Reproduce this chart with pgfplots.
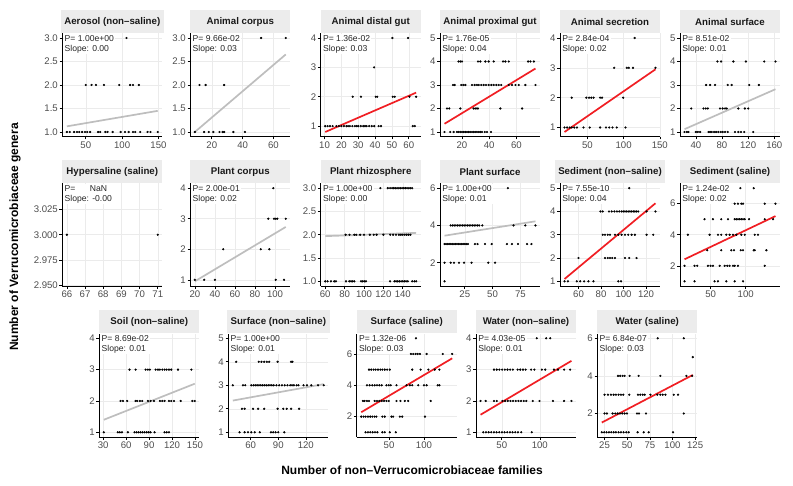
\documentclass[border=0pt]{standalone}
\usepackage{fontspec}
\setmainfont{Liberation Sans}
\usepackage{pgfplots}
\pgfplotsset{compat=1.18}
\definecolor{gridc}{RGB}{235,235,235}
\definecolor{stripc}{RGB}{236,236,236}
\definecolor{tickc}{RGB}{77,77,77}
\definecolor{sigred}{RGB}{240,30,35}
\definecolor{nsgray}{RGB}{190,190,190}
\tikzset{annst/.style={anchor=north west, align=left, fill=white, inner sep=1.2pt, xshift=1pt, yshift=-0.4pt,
  font=\fontsize{8.6}{10}\selectfont, text=black!85}}
\pgfplotsset{
 facet/.style={scale only axis, width=100pt, height=103.4pt, anchor=north west,
  axis lines*=left, axis line style={black, line width=0.75pt},
  tick align=outside, major tick length=2.8pt, tick style={black, line width=0.6pt},
  grid=major, major grid style={gridc, line width=0.5pt},
  enlarge x limits=0.05, enlarge y limits=0.05, scaled ticks=false,
  tick label style={font=\fontsize{9.6}{10}\selectfont, text=tickc},
  yticklabel style={inner xsep=1.5pt}, xticklabel style={inner ysep=2pt},
  every axis title shift=0pt,
  title style={at={(0.5,1)}, anchor=south, fill=stripc, minimum width=100pt, minimum height=23pt,
   inner xsep=3.5pt, inner ysep=0pt, font=\bfseries\fontsize{9.7}{11}\selectfont, text=black!90}},
 ann/.style 2 args={after end axis/.code={\node[annst] at (rel axis cs:0,1) {P= #1\\Slope: #2};}},
 pts/.style={only marks, mark=*, mark size=0.9pt, black},
 sig/.style={sigred, line width=1.7pt, no marks},
 ns/.style={nsgray, line width=1.7pt, no marks},
}
\begin{document}
\begin{tikzpicture}
\path[use as bounding box] (0,0) rectangle (793pt,486pt);
% ---------------- Row 1 ----------------
\begin{axis}[facet, at={(62.3pt,452.7pt)}, title={Aerosol (non–saline)}, ann={1.00e+00}{0.00},
 xtick={50,100,150}, xticklabels={50,100,150}, ytick={1,1.5,2,2.5,3}, yticklabels={1.0,1.5,2.0,2.5,3.0}]
\addplot[pts] coordinates {(106,3)(50,2)(58,2)(64,2)(75,2)(96,2)(111,2)(115,2)(123,2)
(24,1)(28,1)(34,1)(38,1)(41,1)(45,1)(49,1)(52,1)(56,1)(67,1)(70,1)(77,1)(80,1)(87,1)(98,1)(104,1)(109,1)(115,1)(118,1)(125,1)(135,1)(139,1)(149,1)};
\addplot[ns] coordinates {(24,1.12)(149,1.45)};
\end{axis}
\begin{axis}[facet, at={(190.3pt,452.7pt)}, title={Animal corpus}, ann={9.66e-02}{0.03},
 xtick={20,40,60}, xticklabels={20,40,60}, ytick={1,1.5,2,2.5,3}, yticklabels={1.0,1.5,2.0,2.5,3.0}]
\addplot[pts] coordinates {(52,3)(68,3)(12,2)(16,2)(28,2)
(9,1)(15,1)(18,1)(21,1)(25,1)(27,1)(28,1)(34,1)(41.5,1)};
\addplot[ns] coordinates {(9,1.0)(68,2.65)};
\end{axis}
\begin{axis}[facet, at={(320.7pt,452.7pt)}, title={Animal distal gut}, ann={1.36e-02}{0.03},
 xtick={10,20,30,40,50,60}, xticklabels={10,20,30,40,50,60}, ytick={1,2,3,4}, yticklabels={1,2,3,4}]
\addplot[pts] coordinates {(50.3,4)(59.6,4)(39.4,3)
(26.7,2)(31.6,2)(40.4,2)(41.3,2)(50.5,2)(51.7,2)(60.4,2)(64.4,2)
(10.4,1)(11.8,1)(13.2,1)(14.8,1)(17,1)(18.5,1)(20,1)(21.5,1)(23,1)(24,1)(25,1)(26.5,1)(28,1)(29,1)(30,1)(31.5,1)(33,1)(34,1)(35,1)(36.5,1)(38,1)(39.5,1)(42.1,1)(43.5,1)(62.4,1)(63.6,1)};
\addplot[sig] coordinates {(10.4,0.8)(64.4,2.14)};
\end{axis}
\begin{axis}[facet, at={(440pt,452.7pt)}, title={Animal proximal gut}, ann={1.76e-05}{0.04},
 xtick={20,40,60}, xticklabels={20,40,60}, ytick={1,2,3,4,5}, yticklabels={1,2,3,4,5}]
\addplot[pts] coordinates {(12,5)
(17.5,4)(18.8,4)(20,4)(31.8,4)(33.5,4)(37.2,4)(39.6,4)(43.3,4)(50.2,4)(51.9,4)(54.4,4)(68.6,4)(70.3,4)(72.8,4)
(13.4,3)(14.6,3)(19.5,3)(21,3)(22.5,3)(27.4,3)(29.3,3)(31,3)(32.3,3)(34.2,3)(35.9,3)(37.7,3)(39.6,3)(41.6,3)(43.3,3)(45.3,3)(47,3)(48.9,3)(54.4,3)(56.8,3)(59.3,3)(61.7,3)(66.6,3)(74,3)
(9,2)(10.7,2)(18.8,2)(28.6,2)(29.8,2)(31,2)(31.8,2)(48.2,2)(64.2,2)
(7.2,1)(11.4,1)(13.9,1)(16.3,1)(17.5,1)(18.8,1)(20,1)(21.2,1)(22.5,1)(23.7,1)(24.9,1)(26.1,1)(27.4,1)(28.6,1)(29.8,1)(31,1)(32.3,1)(33.5,1)(34.7,1)(36.7,1)(38.4,1)(41.3,1)};
\addplot[sig] coordinates {(7.2,1.35)(74,3.7)};
\end{axis}
\begin{axis}[facet, at={(560pt,452.7pt)}, title={Animal secretion}, ann={2.84e-04}{0.02},
 xtick={50,100,150}, xticklabels={50,100,150}, ytick={1,2,3,4}, yticklabels={1,2,3,4}]
\addplot[pts] coordinates {(115.3,4)(87,3)(104.5,3)(107.2,3)(113,3)(144,3)
(28.4,2)(48.6,2)(52.3,2)(55.4,2)(58.6,2)(67.6,2)(70.3,2)(99.5,2)
(18.5,1)(22,1)(25.7,1)(28.4,1)(32,1)(35.6,1)(44.6,1)(53.2,1)(67.6,1)(75.7,1)(80.2,1)(84.7,1)(90.5,1)(102.7,1)};
\addplot[sig] coordinates {(18.5,0.85)(144,2.95)};
\end{axis}
\begin{axis}[facet, at={(680pt,452.7pt)}, title={Animal surface}, ann={8.51e-02}{0.01},
 xtick={40,80,120,160}, xticklabels={40,80,120,160}, ytick={1,2,3,4,5}, yticklabels={1,2,3,4,5}]
\addplot[pts] coordinates {(30,5)
(73,4)(78.6,4)(97.4,4)(116.6,4)(144.6,4)(161.8,4)
(55.7,3)(61.8,3)(69.4,3)(88.7,3)(94.8,3)(121.7,3)(136.4,3)
(32.9,2)(51.7,2)(55.2,2)(58.3,2)(77,2)(81,2)(84.7,2)(87.2,2)(105,2)(115,2)(120.2,2)
(22.7,1)(26.3,1)(28.8,1)(40,1)(43,1)(46.6,1)(59.3,1)(61.8,1)(64.4,1)(67.9,1)(71,1)(74.5,1)(78,1)(81,1)(84.7,1)(88.7,1)(99.9,1)(105,1)(109,1)(114,1)(127.8,1)};
\addplot[ns] coordinates {(22.7,1.12)(161.8,2.82)};
\end{axis}
% ---------------- Row 2 ----------------
\begin{axis}[facet, height=102.5pt, at={(62.3pt,302.5pt)}, title={Hypersaline (saline)},
 ymin=2.9495, ymax=3.0505, enlarge y limits=false,
 xtick={66,67,68,69,70,71}, xticklabels={66,67,68,69,70,71},
 ytick={2.95,2.975,3,3.025}, yticklabels={2.950,2.975,3.000,3.025}]
\addplot[pts] coordinates {(66,3)(71,3)};
\node[annst] at (rel axis cs:0,1) {P= \hspace{1.4em}NaN\\Slope: -0.00};
\end{axis}
\begin{axis}[facet, height=102.5pt, at={(190.3pt,302.5pt)}, title={Plant corpus}, ann={2.00e-01}{0.02},
 xtick={20,40,60,80,100}, xticklabels={20,40,60,80,100}, ytick={1,2,3,4}, yticklabels={1,2,3,4}]
\addplot[pts] coordinates {(98.3,4)(93.3,3)(99,3)(100.7,3)(102.3,3)(110.7,3)
(48.3,2)(85.7,2)(94.3,2)(20,1)(29.3,1)(40,1)(100.7,1)(109,1)};
\addplot[ns] coordinates {(20,0.95)(110.7,2.73)};
\end{axis}
\begin{axis}[facet, height=102.5pt, at={(320.7pt,302.5pt)}, title={Plant rhizosphere}, ann={1.00e+00}{0.00},
 xtick={60,80,100,120,140}, xticklabels={60,80,100,120,140}, ytick={1,1.5,2,2.5,3}, yticklabels={1.0,1.5,2.0,2.5,3.0}]
\addplot[pts] coordinates {(116.9,3)(124.5,3)(126.9,3)(129,3)(130.7,3)(132.4,3)(134.1,3)(135.9,3)(137.6,3)(139.3,3)(141,3)(142.8,3)(144.5,3)(146.2,3)(147.9,3)(149.7,3)
(81,2)(85,2)(90,2)(92,2)(96,2)(100,2)(106,2)(110,2)(113,2)(120,2)(127,2)(130,2)(133,2)(136,2)(138,2)(140,2)(142,2)(144,2)(146,2)(148,2)
(60,1)(62.4,1)(65.9,1)(69.3,1)(71,1)(81.4,1)(84.8,1)(86.6,1)(88.3,1)(90,1)(96.9,1)(98.6,1)(100.3,1)(102,1)(126.9,1)(131.4,1)(133.1,1)(134.8,1)(136.6,1)(138.3,1)(140,1)(141.7,1)(143.4,1)(145.2,1)(149.7,1)(152,1)(153.8,1)};
\addplot[ns] coordinates {(60,1.97)(153.8,2.04)};
\end{axis}
\begin{axis}[facet, height=102.5pt, at={(440pt,302.5pt)}, title={Plant surface}, ann={1.00e+00}{0.01},
 xtick={25,50,75}, xticklabels={25,50,75}, ytick={2,4,6}, yticklabels={2,4,6}]
\addplot[pts] coordinates {(63.8,6)
(12.3,4)(14,4)(15.5,4)(17,4)(18.5,4)(20,4)(21.5,4)(23,4)(24.5,4)(26,4)(27.5,4)(29,4)(30.5,4)(32,4)(33.5,4)(35,4)(36.5,4)(38,4)(40.8,4)(68.9,4)(79.5,4)(88.6,4)
(6.8,3)(8.2,3)(9.6,3)(11,3)(12.4,3)(13.8,3)(15.2,3)(16.6,3)(18,3)(19.4,3)(20.8,3)(22.2,3)(23.6,3)(25,3)(26.4,3)(27.8,3)(34.1,3)(36.5,3)(43.2,3)(49.2,3)(62.9,3)(67.4,3)(72.9,3)(81.1,3)(85,3)
(6.8,2)(12.3,2)(15.3,2)(19.8,2)(24.4,2)(31.1,2)(46.2,2)(52.3,2)(6.8,1)};
\addplot[ns] coordinates {(6.8,3.45)(88.6,4.22)};
\end{axis}
\begin{axis}[facet, height=102.5pt, at={(560pt,302.5pt)}, title={Sediment (non–saline)}, ann={7.55e-10}{0.04},
 xtick={60,80,100,120}, xticklabels={60,80,100,120}, ytick={1,2,3,4,5}, yticklabels={1,2,3,4,5}]
\addplot[pts] coordinates {(105.1,5)
(79.5,4)(81.5,4)(87.1,4)(89.5,4)(91.9,4)(94.2,4)(96.3,4)(98.3,4)(99.8,4)(101.3,4)(102.8,4)(104.2,4)(105.7,4)(107.2,4)(108.7,4)(110.1,4)(111.6,4)(113.1,4)(120.5,4)(128.4,4)
(81.5,3)(83.6,3)(86,3)(88,3)(92.4,3)(95.4,3)(98.3,3)(101.3,3)(104.2,3)(107.2,3)(110.1,3)(120.5,3)(126.4,3)
(60,2)(83.6,2)(86,2)(88,2)(90,2)(92.4,2)(101.3,2)(105.1,2)(111.6,2)
(47.6,1)(50.6,1)(58.5,1)(61.5,1)(65,1)(68.8,1)(73.3,1)(95.4,1)(97.8,1)};
\addplot[sig] coordinates {(47.6,1.1)(128.4,4.35)};
\end{axis}
\begin{axis}[facet, height=102.5pt, at={(680pt,302.5pt)}, title={Sediment (saline)}, ann={1.24e-02}{0.02},
 xtick={50,100}, xticklabels={50,100}, ytick={2,4,6}, yticklabels={2,4,6}]
\addplot[pts] coordinates {(92.4,7)(111.4,7)
(84.3,6)(89,6)(93.8,6)(96.2,6)(127.1,6)(142.4,6)
(41.4,5)(53.3,5)(65.2,5)(74.8,5)(84.3,5)(86.7,5)(89,5)(91.4,5)(93.8,5)(96.2,5)(98.6,5)(104.8,5)(127.1,5)(139,5)
(17.6,4)(48.6,4)(60.5,4)(65.2,4)(72.4,4)(77.1,4)(81.9,4)(86.7,4)(93.8,4)(98.6,4)(112.9,4)(117.6,4)
(45.2,3)(65.2,3)(79.5,3)(83.3,3)(92.9,3)(96.2,3)(111.4,3)(112.9,3)(129.5,3)
(12.9,2)(27.1,2)(31,2)(46.2,2)(50,2)(53.3,2)(62.9,2)(70,2)(73.8,2)(77.1,2)(81.9,2)(84.3,2)(89,2)(127.1,2)
(12.9,1)(27.1,1)(55.7,1)(60.5,1)(72.4,1)(84.3,1)(96.2,1)};
\addplot[sig] coordinates {(12.9,2.42)(142.4,5.2)};
\end{axis}
% ---------------- Row 3 ----------------
\begin{axis}[facet, at={(99.3pt,152.4pt)}, title={Soil (non–saline)}, ann={8.69e-02}{0.01},
 xtick={30,60,90,120,150}, xticklabels={30,60,90,120,150}, ytick={1,2,3,4}, yticklabels={1,2,3,4}]
\addplot[pts] coordinates {(40,4)
(64.5,3)(72.4,3)(85.5,3)(88.5,3)(91.1,3)(98.6,3)(101.6,3)(104.2,3)(107.3,3)(110.3,3)(113,3)(116,3)(119,3)(127.8,3)(145.3,3)
(52.7,2)(55.8,2)(61.4,2)(72.4,2)(74.5,2)(78,2)(81.1,2)(88.5,2)(92,2)(96.4,2)(104.2,2)(107.3,2)(110.3,2)(116,2)(119,2)(122.6,2)(131.3,2)(146.6,2)(149.7,2)
(30.9,1)(49.2,1)(51.8,1)(54.5,1)(62.3,1)(71,1)(73.7,1)(76.3,1)(78.9,1)(81.5,1)(84.1,1)(86.8,1)(89.4,1)(92,1)(97.2,1)(110.3,1)(113,1)(116,1)};
\addplot[ns] coordinates {(30.9,1.4)(149.7,2.55)};
\end{axis}
\begin{axis}[facet, at={(228.3pt,152.4pt)}, title={Surface (non–saline)}, ann={1.00e+00}{0.01},
 xtick={60,90,120}, xticklabels={60,90,120}, ytick={1,2,3,4,5}, yticklabels={1,2,3,4,5}]
\addplot[pts] coordinates {(45,5)
(44.2,4)(68.8,4)(71.7,4)(74.7,4)(77.6,4)(80.1,4)(89.3,4)(104,4)(105.5,4)
(40.6,3)(51.6,3)(54.1,3)(60.7,3)(63,3)(65,3)(67,3)(69,3)(71,3)(73,3)(75,3)(77,3)(79,3)(81,3)(83,3)(85,3)(88,3)(91,3)(94,3)(97,3)(100,3)(103,3)(105,3)(107,3)(110,3)(112,3)(117.5,3)(121.2,3)(126,3)(133.3,3)(139.5,3)
(50.5,2)(53.4,2)(62.6,2)(68.1,2)(74.7,2)(89.3,2)(95.5,2)(99.2,2)(104,2)(112.7,2)
(47.9,1)(53.4,1)(57.1,1)(60.7,1)(64.4,1)(69.9,1)(82,1)(84.5,1)(87.1,1)(90,1)(96.6,1)};
\addplot[ns] coordinates {(40.6,2.35)(139.5,3.05)};
\end{axis}
\begin{axis}[facet, at={(356.7pt,152.4pt)}, title={Surface (saline)}, ann={1.32e-06}{0.03},
 xtick={50,100}, xticklabels={50,100}, ytick={2,4,6}, yticklabels={2,4,6}]
\addplot[pts] coordinates {(88.5,7)
(81.3,6)(84.6,6)(88,6)(90.9,6)(94.2,6)(103.8,6)(126.9,6)(140.4,6)
(21.2,5)(24.5,5)(27.9,5)(30.8,5)(34.1,5)(37.5,5)(40.4,5)(43.8,5)(47.1,5)(51,5)(83.2,5)(95.2,5)(106.3,5)(115.4,5)(122.1,5)
(18.3,4)(22.1,4)(26,4)(29.3,4)(32.7,4)(36.1,4)(39.4,4)(46.2,4)(49.5,4)(52.4,4)(60.6,4)(75,4)(79.8,4)(83.2,4)(91.8,4)(100,4)(103.8,4)(119.7,4)(122.1,4)
(12.5,3)(14.9,3)(18.3,3)(21.2,3)(29.3,3)(32.7,3)(36.1,3)(39.4,3)(42.8,3)(46.2,3)(49.5,3)(60.6,3)(66.3,3)(72.6,3)(77.4,3)(109.6,3)
(10.1,2)(13.5,2)(16.3,2)(19.7,2)(23,2)(26,2)(29.3,2)(31.7,2)(40.4,2)(43.8,2)(53.4,2)(55.8,2)(65.4,2)(68.8,2)(101.4,2)
(16.3,1)(19.7,1)(23,1)(26.4,1)(29.8,1)(33.2,1)(40.4,1)(43.8,1)(51,1)(59.6,1)};
\addplot[sig] coordinates {(10.1,2.28)(140.4,5.72)};
\end{axis}
\begin{axis}[facet, at={(476pt,152.4pt)}, title={Water (non–saline)}, ann={4.03e-05}{0.01},
 xtick={50,100}, xticklabels={50,100}, ytick={1,2,3,4}, yticklabels={1,2,3,4}]
\addplot[pts] coordinates {(96,4)(108.4,4)(113.7,4)
(39.8,3)(43.4,3)(46.9,3)(50.4,3)(54,3)(57.5,3)(61,3)(64.6,3)(70.8,3)(74.3,3)(77.9,3)(81.4,3)(88.5,3)(92.9,3)(102.7,3)(107.1,3)(118.6,3)(123.9,3)(131.9,3)(139.8,3)
(22.1,2)(28.8,2)(39.8,2)(43.4,2)(50.9,2)(54.4,2)(57.9,2)(61.4,2)(64.9,2)(68.4,2)(71.9,2)(75.4,2)(78.9,2)(82.3,2)(90.7,2)(99.6,2)(117.3,2)(131.9,2)(141.6,2)
(25.7,1)(29.2,1)(32.7,1)(36.2,1)(39.7,1)(43.2,1)(46.7,1)(50.2,1)(53.7,1)(57.2,1)(60.7,1)(64.2,1)(67.7,1)(71.2,1)(75.6,1)(89.4,1)};
\addplot[sig] coordinates {(22.1,1.56)(141.6,3.28)};
\end{axis}
\begin{axis}[facet, at={(597.3pt,152.4pt)}, title={Water (saline)}, ann={6.84e-07}{0.03},
 xtick={25,50,75,100,125}, xticklabels={25,50,75,100,125}, ytick={2,4,6}, yticklabels={2,4,6}]
\addplot[pts] coordinates {(83.7,6)(112.5,6)(122.4,5)
(39.8,4)(42.3,4)(44.9,4)(47.1,4)(52.7,4)(62.6,4)(86.6,4)(115.4,4)(121.7,4)
(25,3)(28.7,3)(32,3)(35,3)(37.5,3)(40.5,3)(43.1,3)(45.7,3)(52.3,3)(61.9,3)(64.5,3)(67.1,3)(69.3,3)(75.6,3)(83.3,3)(86.6,3)(89.2,3)(92.2,3)(101.4,3)(106.2,3)
(25,2)(27.6,2)(33.9,2)(36.8,2)(39.4,2)(42,2)(44.6,2)(47.1,2)(49.7,2)(60.8,2)(63,2)(70.8,2)(112.5,2)
(22,1)(24.6,1)(27.2,1)(29.8,1)(32.4,1)(35,1)(37.5,1)(40.5,1)(43.1,1)(46,1)(49,1)(51.6,1)(61.5,1)(68.2,1)(73.7,1)(100.6,1)};
\addplot[sig] coordinates {(22,1.52)(122.4,4.05)};
\end{axis}
% axis titles
\node[font=\bfseries\fontsize{12}{14}\selectfont, rotate=90] at (15pt,249pt) {Number of Verrucomicrobiaceae genera};
\node[font=\bfseries\fontsize{12}{14}\selectfont] at (412pt,16pt) {Number of non–Verrucomicrobiaceae families};
\end{tikzpicture}
\end{document}
